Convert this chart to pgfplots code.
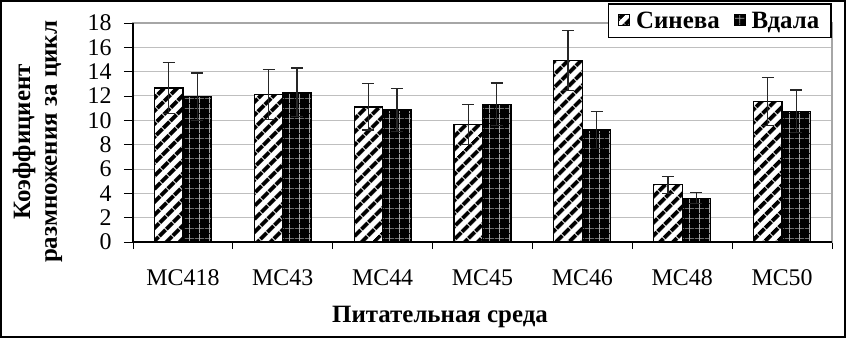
\documentclass[border=0pt]{standalone}
\usepackage{fontspec}
\setmainfont{Liberation Serif}
\usepackage{pgfplots}
\pgfplotsset{compat=1.18}
\usetikzlibrary{patterns.meta}

\pgfplotstableread{
x  s      se    v      ve
0  12.65  2.10  11.95  1.95
1  12.10  2.05  12.30  2.00
2  11.10  1.90  10.85  1.75
3   9.65  1.65  11.33  1.75
4  14.93  2.45   9.20  1.50
5   4.70  0.70   3.60  0.45
6  11.55  1.95  10.74  1.75
}\datatable

\begin{document}
\begin{tikzpicture}
\useasboundingbox (-133bp,-96bp) rectangle (713bp,242bp);
\begin{axis}[
  at={(0bp,0bp)}, anchor=south west,
  scale only axis, width=699bp, height=219bp,
  xmin=-0.5, xmax=6.5, ymin=0, ymax=18,
  ybar=0pt, bar width=28.5bp,
  ytick={0,2,...,18},
  ymajorgrids, grid style={gray!50, line width=1bp},
  xtick={0,...,6},
  xticklabels={MC418,MC43,MC44,MC45,MC46,MC48,MC50},
  minor xtick={-0.5,0.5,...,6.5},
  xtick pos=bottom, ytick pos=left,
  major x tick style={draw=none},
  minor x tick style={black, line width=0.8bp},
  minor tick length=7bp,
  tick align=outside,
  major tick length=9bp,
  ytick style={black, line width=0.8bp},
  axis line style={gray!70, line width=1.6bp},
  /pgf/number format/assume math mode=true,
  tick label style={font=\fontsize{24}{24}\selectfont},
  xticklabel style={anchor=base, yshift=-34bp},
  yticklabel style={anchor=east, xshift=-9bp},
  xlabel={Питательная среда},
  xlabel style={font=\fontsize{25}{25}\selectfont\bfseries, at={(axis description cs:0.4392,0)}, anchor=base, yshift=-80bp},
  ylabel={Коэффициент\\размножения за цикл},
  ylabel style={font=\fontsize{25}{27}\selectfont\bfseries, align=center, at={(axis description cs:-0.1366,0.457)}, anchor=center},
  legend style={at={(1,1.0913)}, anchor=north east, draw=black, line width=1.5bp, fill=white,
    font=\fontsize{25}{25}\selectfont\bfseries, inner xsep=10bp, inner ysep=6bp,
    /tikz/every odd column/.append style={column sep=4bp},
    /tikz/every even column/.append style={column sep=12bp}},
  legend columns=2,
  legend image code/.code={\draw[#1, line width=0.8bp] (0bp,-5bp) rectangle (11bp,6bp);},
  extra description/.code={
    \draw[black, line width=1.4bp] (rel axis cs:0,1) -- (rel axis cs:0,0) -- (rel axis cs:1,0);
  },
]
\addplot[draw=black, line width=1.2bp, fill=white,
  postaction={pattern={Lines[angle=45,distance=10bp,line width=4.6bp]}, pattern color=black},
  error bars/.cd, y dir=both, y explicit,
  error bar style={line width=1.3bp, black!85},
  error mark options={rotate=90, mark size=6bp, line width=1.3bp, black!85}]
  table[x=x, y=s, y error=se] {\datatable};
\addlegendentry{Синева}
\addplot[draw=black, line width=1.2bp, fill=black,
  postaction={pattern={Hatch[angle=0,distance=10bp,line width=0.7bp]}, pattern color=gray!70},
  error bars/.cd, y dir=both, y explicit,
  error bar style={line width=1.3bp, black!85},
  error mark options={rotate=90, mark size=6bp, line width=1.3bp, black!85}]
  table[x=x, y=v, y error=ve] {\datatable};
\addlegendentry{Вдала}
\end{axis}
\draw[black, line width=2bp] (-132bp,-95bp) rectangle (712bp,241bp);
\end{tikzpicture}
\end{document}
